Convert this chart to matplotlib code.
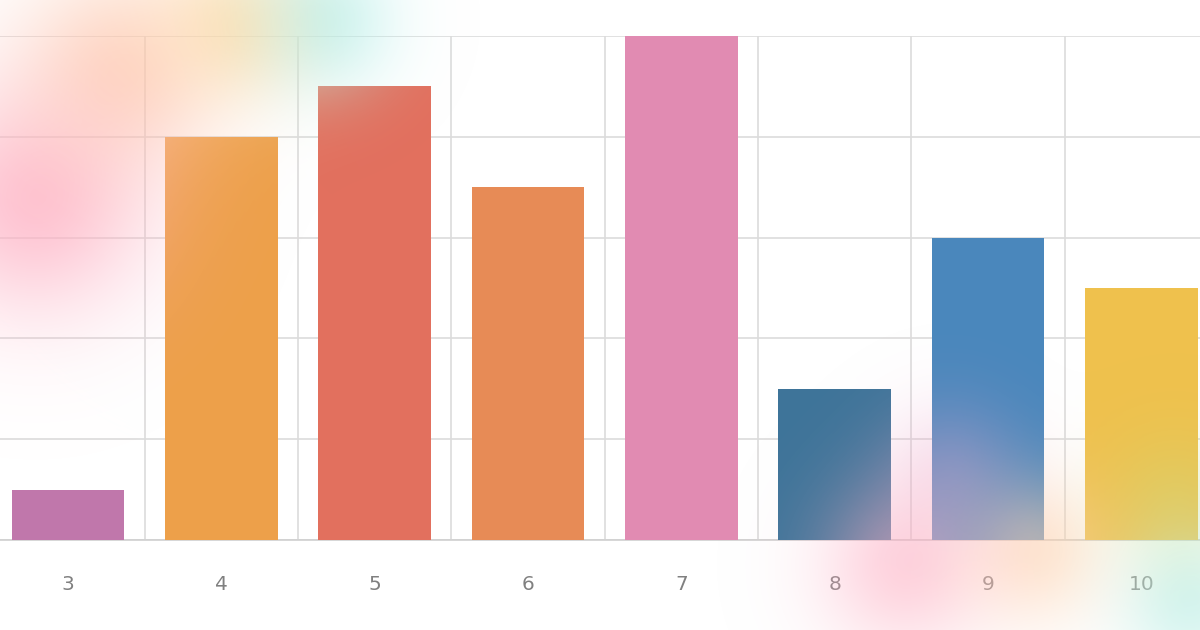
import matplotlib.pyplot as plt
import numpy as np
from matplotlib.colors import to_rgb

# data
cats = [3, 4, 5, 6, 7, 8, 9, 10]
vals = [0.5, 4.0, 4.5, 3.5, 5.0, 1.5, 3.0, 2.5]
colors = ['#C077AB', '#EDA04A', '#E2705E', '#E78B56', '#E18BB2', '#3E7499', '#4A87BC', '#EFC14D']

W, H = 1200, 630
fig = plt.figure(figsize=(W / 100, H / 100), dpi=100)
fig.patch.set_facecolor('white')

# plot area runs a bit past the image edges (cropped screenshot)
left_px, right_px, top_px, bot_px = -8.6, 1218.0, 36.0, 540.0
ax = fig.add_axes([left_px / W, (H - bot_px) / H, (right_px - left_px) / W, (bot_px - top_px) / H])

ax.bar(cats, vals, width=0.735, color=colors, zorder=3)
ax.set_xlim(2.5, 10.5)
ax.set_ylim(0, 5)
ax.set_yticks(np.arange(0, 6, 1))
ax.set_xticks(cats)
ax.set_xticks(np.arange(3.5, 10.5, 1), minor=True)
ax.grid(True, which='minor', axis='x', color='#DCDCDC', lw=1.2, zorder=0)
ax.grid(True, which='major', axis='y', color='#DCDCDC', lw=1.2, zorder=0)
ax.tick_params(axis='x', which='both', length=0, pad=25, labelsize=14.5, labelcolor='#808080')
ax.tick_params(axis='y', length=0, labelleft=False)
for s in ['top', 'right', 'left']:
    ax.spines[s].set_visible(False)
ax.spines['bottom'].set_color('#D0D0D0')
ax.spines['bottom'].set_linewidth(1.2)

# soft decorative colour blobs laid over the chart
yy, xx = np.mgrid[0:H, 0:W]
blobs = [
    (35, 200, 80, '#FFB0C4', 0.75),
    (120, 70, 70, '#FFC6A8', 0.65),
    (235, 25, 50, '#FFDDA0', 0.65),
    (320, 20, 50, '#B0EEEA', 0.65),
    (905, 565, 60, '#FFB0C4', 0.55),
    (950, 470, 50, '#E8A8D0', 0.3),
    (1035, 550, 50, '#FFD4AE', 0.55),
    (1190, 600, 50, '#C0F0EA', 0.65),
    (1175, 500, 50, '#C8DC80', 0.3),
]
acc_rgb = np.zeros((H, W, 3))
acc_a = np.zeros((H, W))
keep = np.ones((H, W))
for bx, by, sig, col, amp in blobs:
    a = amp * np.exp(-((xx - bx) ** 2 + (yy - by) ** 2) / (2 * sig ** 2))
    acc_rgb += a[..., None] * np.array(to_rgb(col))
    acc_a += a
    keep *= (1 - a)
rgb = acc_rgb / np.maximum(acc_a, 1e-9)[..., None]
alpha = 1 - keep
img = np.dstack([rgb, alpha])

ov = fig.add_axes([0, 0, 1, 1], zorder=10)
ov.imshow(img, extent=(0, W, H, 0), interpolation='bilinear')
ov.set_xlim(0, W)
ov.set_ylim(H, 0)
ov.axis('off')

fig.savefig('out.png', dpi=100)
